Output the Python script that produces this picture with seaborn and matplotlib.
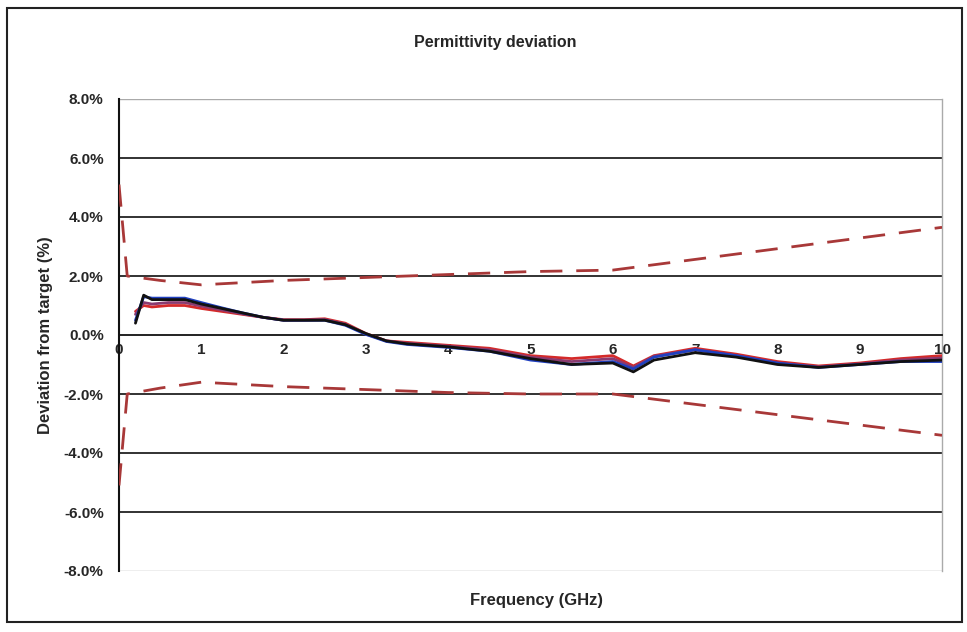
import matplotlib
matplotlib.use("Agg")
import matplotlib.pyplot as plt
import matplotlib.ticker as mticker
from matplotlib.patches import Rectangle
import pandas as pd
import seaborn as sns

# measured curves (deviation in %)
freq = [0.2, 0.3, 0.4, 0.6, 0.8, 1.0, 1.25, 1.5, 1.75, 2.0, 2.25, 2.5, 2.75, 3.0,
        3.25, 3.5, 4.0, 4.5, 5.0, 5.5, 6.0, 6.25, 6.5, 7.0, 7.5, 8.0, 8.5, 9.0, 9.5, 10.0]
dev_black = [0.4, 1.35, 1.2, 1.2, 1.2, 1.05, 0.9, 0.75, 0.6, 0.5, 0.5, 0.5, 0.35, 0.05,
             -0.2, -0.3, -0.4, -0.55, -0.8, -1.0, -0.95, -1.25, -0.85, -0.6, -0.75, -1.0, -1.1, -1.0, -0.9, -0.85]
dev_blue = [0.5, 1.3, 1.25, 1.25, 1.25, 1.1, 0.92, 0.75, 0.6, 0.5, 0.5, 0.5, 0.33, 0.02,
            -0.22, -0.32, -0.42, -0.55, -0.85, -1.0, -0.9, -1.15, -0.75, -0.5, -0.7, -0.95, -1.1, -1.0, -0.9, -0.9]
dev_red = [0.8, 1.0, 0.95, 1.0, 1.0, 0.9, 0.8, 0.7, 0.6, 0.52, 0.52, 0.55, 0.4, 0.05,
           -0.2, -0.25, -0.35, -0.45, -0.7, -0.8, -0.7, -1.05, -0.7, -0.45, -0.65, -0.9, -1.05, -0.95, -0.8, -0.7]
dev_purple = [0.7, 1.1, 1.05, 1.1, 1.1, 0.98, 0.85, 0.72, 0.6, 0.5, 0.5, 0.52, 0.37, 0.03,
              -0.2, -0.28, -0.38, -0.5, -0.75, -0.9, -0.8, -1.1, -0.72, -0.5, -0.7, -0.95, -1.08, -0.98, -0.85, -0.78]

# tolerance limits
limit_freq = [0.0, 0.1, 0.5, 1.0, 2.0, 3.0, 4.0, 5.0, 6.0, 10.0]
upper_limit = [5.1, 2.0, 1.85, 1.7, 1.85, 1.95, 2.05, 2.15, 2.2, 3.65]
lower_limit = [-5.1, -2.0, -1.8, -1.6, -1.75, -1.85, -1.95, -2.0, -2.0, -3.4]

y_ticks = [-8, -6, -4, -2, 0, 2, 4, 6, 8]
x_ticks = [0, 1, 2, 3, 4, 5, 6, 7, 8, 9, 10]

sns.set_style("white")
plt.rcParams["font.family"] = ["Liberation Sans", "DejaVu Sans"]
plt.rcParams["font.weight"] = "bold"

fig = plt.figure(figsize=(9.67, 6.32), dpi=100)
ax = fig.add_axes([119 / 967, 1 - 571 / 632, (942 - 119) / 967, (571 - 99) / 632])

# outer border of the chart
fig.patches.append(Rectangle((7 / 967, 1 - 622 / 632), 955 / 967, 614 / 632,
                             transform=fig.transFigure, fill=False,
                             edgecolor="#222222", linewidth=1.5))

for yv in y_ticks:
    if yv in (-8, 8):
        ax.axhline(yv, color="#aaaaaa", lw=1.0, zorder=1)
    elif yv != 0:
        ax.axhline(yv, color="#222222", lw=1.3, zorder=1)

limits = pd.DataFrame({"freq": limit_freq, "upper": upper_limit, "lower": lower_limit})
for col in ["upper", "lower"]:
    sns.lineplot(data=limits, x="freq", y=col, ax=ax, color="#a83838", lw=2.0,
                 dashes=False, zorder=3).lines[-1].set_dashes([8, 5])

curves = pd.DataFrame({"freq": freq, "black": dev_black, "blue": dev_blue,
                       "red": dev_red, "purple": dev_purple})
colors = {"red": "#d42a2a", "purple": "#8a3a70", "blue": "#2040c0", "black": "#111111"}
for name in ["red", "purple", "blue", "black"]:
    sns.lineplot(data=curves, x="freq", y=name, ax=ax, color=colors[name], lw=2.0, zorder=4)

ax.set_xlim(0, 10)
ax.set_ylim(-8, 8)
ax.set_xticks(x_ticks)
ax.set_yticks(y_ticks)
ax.yaxis.set_major_formatter(mticker.FuncFormatter(lambda v, p: f"{v:.1f}%"))

ax.spines["bottom"].set_position(("data", 0))
ax.spines["bottom"].set_color("#111111")
ax.spines["bottom"].set_linewidth(1.3)
ax.spines["left"].set_color("#111111")
ax.spines["left"].set_linewidth(1.5)
ax.spines["top"].set_visible(False)
ax.spines["right"].set_color("#aaaaaa")
ax.spines["right"].set_linewidth(1.0)

ax.tick_params(axis="y", direction="out", length=5, width=1.2, labelsize=11, pad=6)
ax.tick_params(axis="x", direction="in", length=5, width=1.2, labelsize=11, pad=6)
for lbl in ax.get_xticklabels() + ax.get_yticklabels():
    lbl.set_fontweight("bold")

ax.set_xlabel("")
ax.set_ylabel("")
fig.text(495 / 967, 1 - 42 / 632, "Permittivity deviation", ha="center", va="center",
         fontsize=11.5, fontweight="bold")
fig.text(537 / 967, 1 - 601 / 632, "Frequency (GHz)", ha="center", va="center",
         fontsize=12, fontweight="bold")
fig.text(46 / 967, 1 - 335 / 632, "Deviation from target (%)", ha="center", va="center",
         rotation=90, fontsize=12, fontweight="bold")

fig.savefig("out.png", dpi=100, facecolor="white")
